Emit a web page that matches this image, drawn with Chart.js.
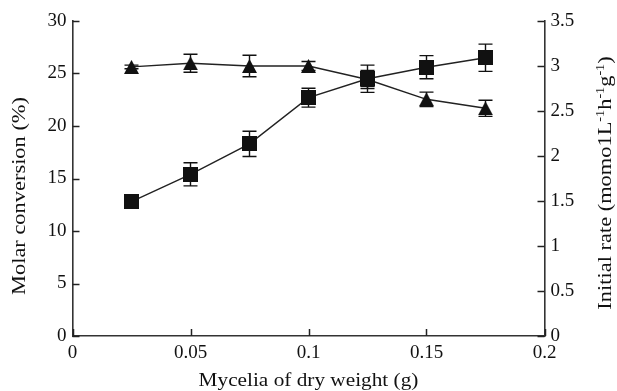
<!DOCTYPE html>
<html><head><meta charset="utf-8">
<script src="https://cdn.jsdelivr.net/npm/chart.js@4.4.1/dist/chart.umd.min.js"></script>
<style>html,body{margin:0;padding:0;background:#fff}#wrap{width:617px;height:391px}</style>
</head><body><div id="wrap"><canvas id="c" width="617" height="391"></canvas></div>
<script>
// ---- data ----
const xValues = [0.025, 0.05, 0.075, 0.1, 0.125, 0.15, 0.175];
const molarConversion = [12.8, 15.4, 18.3, 22.7, 24.5, 25.6, 26.5];
const molarConversionErr = [0.3, 1.1, 1.2, 0.9, 1.3, 1.1, 1.3];
const initialRate = [2.99, 3.03, 3.0, 3.0, 2.85, 2.63, 2.53];
const initialRateErr = [0.02, 0.1, 0.12, 0.05, 0.1, 0.08, 0.09];
const xTicks = [0, 0.05, 0.1, 0.15, 0.2];
const leftTicks = [0, 5, 10, 15, 20, 25, 30];
const rightTicks = [0, 0.5, 1, 1.5, 2, 2.5, 3, 3.5];
const xTitle = 'Mycelia of dry weight (g)';
const leftTitle = 'Molar conversion (%)';
const rightTitleParts = [['Initial rate (momo1L', false], ['-1', true], ['h', false], ['-1', true], ['g', false], ['-1', true], [')', false]];

// ---- marker images ----
function squareImg(s) {
  const c = document.createElement('canvas'); c.width = s; c.height = s;
  const g = c.getContext('2d'); g.fillStyle = '#111'; g.fillRect(0, 0, s, s); return c;
}
function triImg(w, h) {
  const c = document.createElement('canvas'); c.width = w; c.height = h;
  const g = c.getContext('2d'); g.fillStyle = '#111';
  g.beginPath(); g.moveTo(w / 2, 0); g.lineTo(w, h); g.lineTo(0, h); g.closePath(); g.fill(); return c;
}
const sq = squareImg(15);
const tri = triImg(15, 14);

const FONT = '"Liberation Serif", "Times New Roman", serif';
const INK = '#111';

const errorBars = {
  id: 'errorBars',
  beforeDatasetsDraw(chart) {
    const ctx = chart.ctx;
    const xs = chart.scales.x;
    chart.data.datasets.forEach((ds) => {
      const ys = chart.scales[ds.yAxisID];
      ctx.save();
      ctx.strokeStyle = INK; ctx.lineWidth = 1.4;
      ds.data.forEach((p, j) => {
        const e = ds.errors[j];
        const px = xs.getPixelForValue(p.x);
        const top = ys.getPixelForValue(p.y + e), bot = ys.getPixelForValue(p.y - e);
        ctx.beginPath();
        ctx.moveTo(px, top); ctx.lineTo(px, bot);
        ctx.moveTo(px - 7, top); ctx.lineTo(px + 7, top);
        ctx.moveTo(px - 7, bot); ctx.lineTo(px + 7, bot);
        ctx.stroke();
      });
      ctx.restore();
    });
  }
};

const inwardTicks = {
  id: 'inwardTicks',
  afterDraw(chart) {
    const ctx = chart.ctx, a = chart.chartArea;
    ctx.save(); ctx.strokeStyle = '#222'; ctx.lineWidth = 1.5;
    const L = 7;
    chart.scales.x.ticks.forEach(t => {
      const px = Math.round(chart.scales.x.getPixelForValue(t.value)) + 0.5;
      ctx.beginPath(); ctx.moveTo(px, a.bottom); ctx.lineTo(px, a.bottom - L); ctx.stroke();
    });
    chart.scales.yL.ticks.forEach(t => {
      const py = Math.round(chart.scales.yL.getPixelForValue(t.value)) + 0.5;
      ctx.beginPath(); ctx.moveTo(a.left, py); ctx.lineTo(a.left + L, py); ctx.stroke();
    });
    chart.scales.yR.ticks.forEach(t => {
      const py = Math.round(chart.scales.yR.getPixelForValue(t.value)) + 0.5;
      ctx.beginPath(); ctx.moveTo(a.right, py); ctx.lineTo(a.right - L, py); ctx.stroke();
    });
    ctx.restore();
  }
};

const STRETCH = 1.18;
const axisTitles = {
  id: 'axisTitles',
  afterDraw(chart) {
    const ctx = chart.ctx, a = chart.chartArea;
    ctx.save();
    ctx.fillStyle = INK;
    ctx.font = '19px ' + FONT;
    ctx.textAlign = 'center'; ctx.textBaseline = 'alphabetic';
    // x title
    ctx.save();
    ctx.translate((a.left + a.right) / 2, 386);
    ctx.scale(1.12, 1);
    ctx.fillText(xTitle, 0, 0);
    ctx.restore();
    // left title
    ctx.save();
    ctx.translate(25, 196);
    ctx.rotate(-Math.PI / 2);
    ctx.scale(STRETCH, 1);
    ctx.fillText(leftTitle, 0, 0);
    ctx.restore();
    // right title with superscripts
    ctx.save();
    ctx.translate(611, 183);
    ctx.rotate(-Math.PI / 2);
    ctx.scale(STRETCH, 1);
    ctx.textAlign = 'left';
    const mainF = '19px ' + FONT, supF = '12px ' + FONT;
    let total = 0;
    rightTitleParts.forEach(([s, sup]) => { ctx.font = sup ? supF : mainF; total += ctx.measureText(s).width; });
    let x = -total / 2;
    rightTitleParts.forEach(([s, sup]) => {
      ctx.font = sup ? supF : mainF;
      ctx.fillText(s, x, sup ? -7 : 0);
      x += ctx.measureText(s).width;
    });
    ctx.restore();
    ctx.restore();
  }
};

const tickFont = { family: FONT, size: 19 };
const fmt = v => String(+Number(v).toFixed(3));

new Chart(document.getElementById('c'), {
  type: 'scatter',
  data: {
    datasets: [
      {
        label: leftTitle,
        yAxisID: 'yL',
        data: xValues.map((x, i) => ({ x, y: molarConversion[i] })),
        errors: molarConversionErr,
        showLine: true,
        borderColor: '#222', borderWidth: 1.4,
        pointStyle: sq, pointRadius: 8, pointHoverRadius: 8,
        backgroundColor: INK
      },
      {
        label: 'Initial rate',
        yAxisID: 'yR',
        data: xValues.map((x, i) => ({ x, y: initialRate[i] })),
        errors: initialRateErr,
        showLine: true,
        borderColor: '#222', borderWidth: 1.4,
        pointStyle: tri, pointRadius: 8, pointHoverRadius: 8,
        backgroundColor: INK
      }
    ]
  },
  options: {
    responsive: false, animation: false, devicePixelRatio: 1,
    layout: { padding: { top: 21, left: 0, right: 0, bottom: 0 } },
    plugins: { legend: { display: false }, tooltip: { enabled: false } },
    scales: {
      x: {
        type: 'linear', min: 0, max: 0.2,
        afterBuildTicks: s => { s.ticks = xTicks.map(v => ({ value: v })); },
        afterFit: s => { s.height = 55; },
        grid: { drawOnChartArea: false, drawTicks: false },
        border: { display: true, color: '#333', width: 1.6 },
        ticks: { font: tickFont, color: INK, padding: 6, callback: fmt, maxRotation: 0 }
      },
      yL: {
        position: 'left', min: 0, max: 30,
        afterBuildTicks: s => { s.ticks = leftTicks.map(v => ({ value: v })); },
        afterFit: s => { s.width = 72.5; },
        grid: { drawOnChartArea: false, drawTicks: false },
        border: { display: true, color: '#333', width: 1.6 },
        ticks: { font: tickFont, color: INK, padding: 6, callback: fmt }
      },
      yR: {
        position: 'right', min: 0, max: 3.5,
        afterBuildTicks: s => { s.ticks = rightTicks.map(v => ({ value: v })); },
        afterFit: s => { s.width = 72.5; },
        grid: { drawOnChartArea: false, drawTicks: false },
        border: { display: true, color: '#333', width: 1.6 },
        ticks: { font: tickFont, color: INK, padding: 6, callback: fmt }
      }
    }
  },
  plugins: [errorBars, inwardTicks, axisTitles]
});
</script>
</body></html>
